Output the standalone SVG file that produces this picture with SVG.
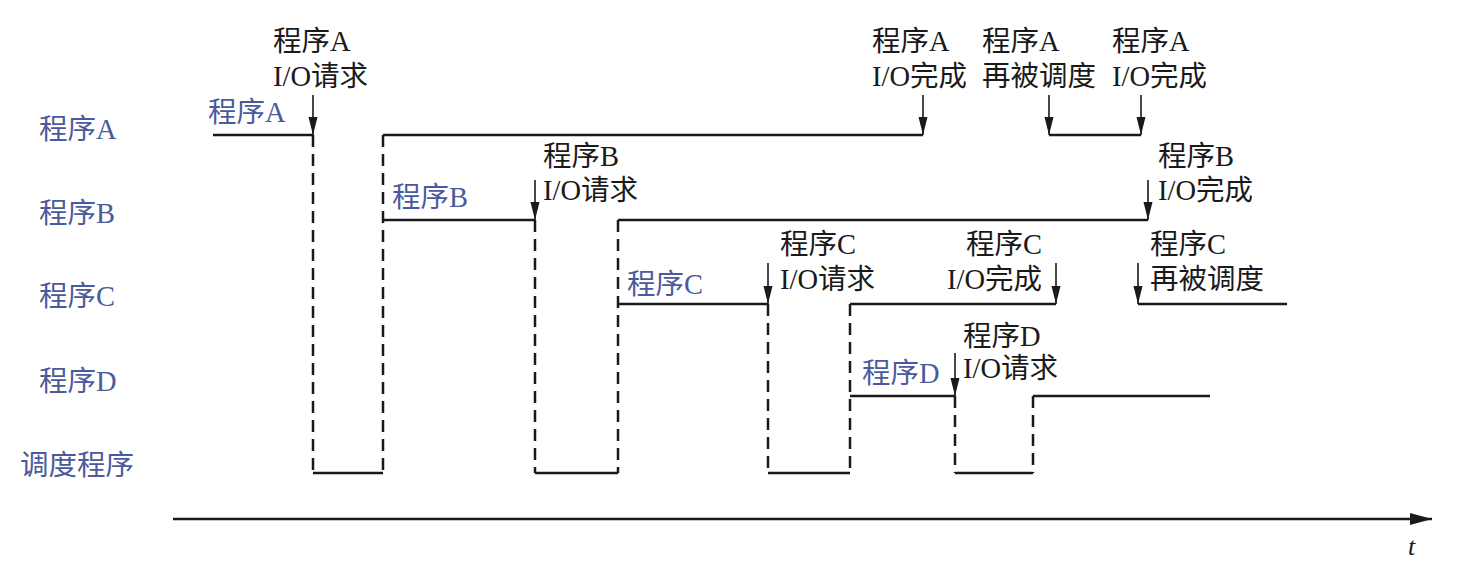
<svg xmlns="http://www.w3.org/2000/svg" width="1472" height="566" viewBox="0 0 1472 566">
<style>
.t{font-family:"Liberation Serif","Noto Sans CJK SC",serif;font-size:28.5px;fill:#1a1a1a}
.b{font-family:"Liberation Serif","Noto Sans CJK SC",serif;font-size:28.5px;fill:#4b5a9b}
.s{stroke:#1a1a1a;stroke-width:2.5;fill:none}
.d{stroke:#1a1a1a;stroke-width:2.5;fill:none;stroke-dasharray:12 7}
.a{stroke:#1a1a1a;stroke-width:1.6;fill:none;marker-end:url(#ah)}
</style>
<defs>
<marker id="ah" viewBox="0 0 18 10" refX="18" refY="5" markerWidth="18" markerHeight="10" markerUnits="userSpaceOnUse" orient="auto">
<path d="M0,0.5 L18,5 L0,9.5 Z" fill="#1a1a1a"/>
</marker>
<marker id="ax" viewBox="0 0 22 12" refX="22" refY="6" markerWidth="22" markerHeight="12" markerUnits="userSpaceOnUse" orient="auto">
<path d="M0,0 L22,6 L0,12 Z" fill="#1a1a1a"/>
</marker>
</defs>
<g id="row-labels">
<text class="b" x="39" y="139">程序A</text>
<text class="b" x="39" y="223">程序B</text>
<text class="b" x="39" y="306">程序C</text>
<text class="b" x="39" y="391">程序D</text>
<text class="b" x="20" y="475">调度程序</text>
</g>
<g id="connectors">
<path class="s" d="M213,135 H313 M383,135 H923 M1049,135 H1141"/>
<path class="s" d="M383,220 H535 M618,220 H1148"/>
<path class="s" d="M618,304 H768 M850,304 H1056 M1138,304 H1287"/>
<path class="s" d="M850,396 H955 M1033,396 H1210"/>
<path class="s" d="M313,473 H383 M535,473 H618 M768,473 H850 M955,473 H1033"/>
<path class="d" d="M313,135 V473 M383,135 V473 M535,220 V473 M618,220 V473 M768,304 V473 M850,304 V473 M955,396 V473 M1033,396 V473"/>
<line class="a" x1="313" y1="95" x2="313" y2="135"/>
<line class="a" x1="923" y1="95" x2="923" y2="135"/>
<line class="a" x1="1049" y1="95" x2="1049" y2="135"/>
<line class="a" x1="1141" y1="95" x2="1141" y2="135"/>
<line class="a" x1="535" y1="180" x2="535" y2="220"/>
<line class="a" x1="1148" y1="180" x2="1148" y2="220"/>
<line class="a" x1="768" y1="263" x2="768" y2="304"/>
<line class="a" x1="1056" y1="263" x2="1056" y2="304"/>
<line class="a" x1="1138" y1="263" x2="1138" y2="304"/>
<line class="a" x1="955" y1="353" x2="955" y2="396"/>
<line x1="173" y1="519" x2="1432" y2="519" stroke="#1a1a1a" stroke-width="2.5" marker-end="url(#ax)"/>
</g>
<g id="run-labels">
<text class="b" x="208" y="122">程序A</text>
<text class="b" x="392" y="207">程序B</text>
<text class="b" x="627" y="294">程序C</text>
<text class="b" x="862" y="383">程序D</text>
</g>
<g id="ev-a-io-req"><text class="t" x="273" y="51">程序A</text><text class="t" x="273" y="86">I/O请求</text></g>
<g id="ev-b-io-req"><text class="t" x="543" y="166">程序B</text><text class="t" x="543" y="200">I/O请求</text></g>
<g id="ev-a-io-done"><text class="t" x="872" y="51">程序A</text><text class="t" x="872" y="86">I/O完成</text></g>
<g id="ev-a-resched"><text class="t" x="982" y="51">程序A</text><text class="t" x="982" y="86">再被调度</text></g>
<g id="ev-a-io-done2"><text class="t" x="1112" y="51">程序A</text><text class="t" x="1112" y="86">I/O完成</text></g>
<g id="ev-b-io-done"><text class="t" x="1158" y="166">程序B</text><text class="t" x="1158" y="200">I/O完成</text></g>
<g id="ev-c-io-req"><text class="t" x="780" y="254">程序C</text><text class="t" x="780" y="289">I/O请求</text></g>
<g id="ev-c-io-done"><text class="t" x="1042" y="254" text-anchor="end">程序C</text><text class="t" x="1042" y="289" text-anchor="end">I/O完成</text></g>
<g id="ev-c-resched"><text class="t" x="1150" y="254">程序C</text><text class="t" x="1150" y="289">再被调度</text></g>
<g id="ev-d-io-req"><text class="t" x="963" y="346">程序D</text><text class="t" x="963" y="378">I/O请求</text></g>
<text x="1408" y="555" font-family="Liberation Serif,serif" font-style="italic" font-size="26" fill="#1a1a1a">t</text>
</svg>
